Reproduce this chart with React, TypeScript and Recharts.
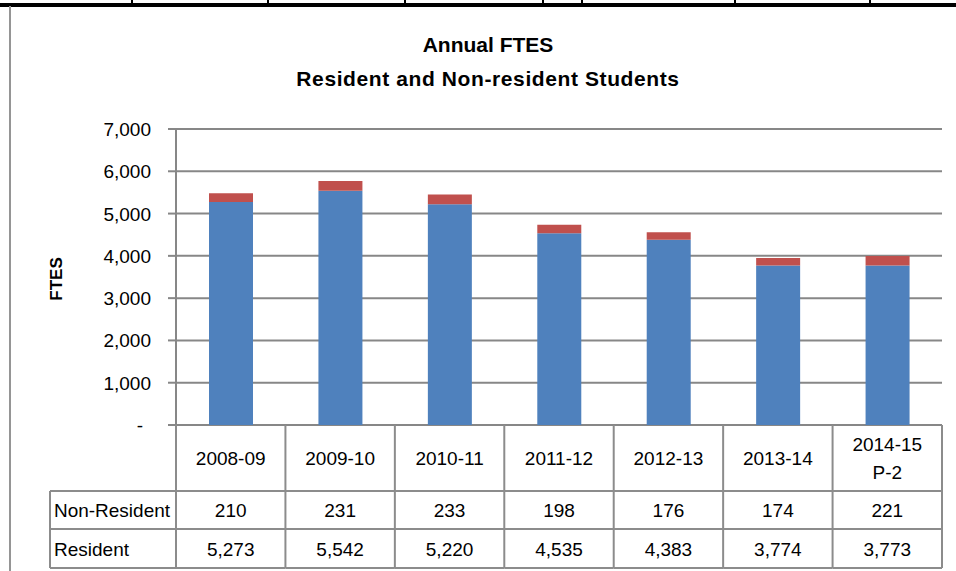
import React from "react";
import { BarChart, Bar, XAxis, YAxis, CartesianGrid } from "recharts";

const categories: string[] = ["2008-09", "2009-10", "2010-11", "2011-12", "2012-13", "2013-14", "2014-15\nP-2"];
const nonResident: number[] = [210, 231, 233, 198, 176, 174, 221];
const resident: number[] = [5273, 5542, 5220, 4535, 4383, 3774, 3773];
const yTicks: number[] = [0, 1000, 2000, 3000, 4000, 5000, 6000, 7000];
const rowLabels: string[] = ["Non-Resident", "Resident"];

const data = categories.map((name, i) => ({
  name,
  nonResident: nonResident[i],
  resident: resident[i],
}));

const W = 956;
const H = 571;
const LEFT = 176;
const RIGHT = 14;
const COL_W = (W - LEFT - RIGHT) / categories.length;
const HEAD_H = 66;
const ROW1_H = 38;
const ROW2_H = 39;
const LABEL_X = 50;
const BORDER = "#8c8c8c";
const FONT = "'Liberation Sans', Arial, sans-serif";

const fmt = (v: number) => (v === 0 ? "-" : v.toLocaleString("en-US"));

const YTick = (props: any) => {
  const { x, y, payload } = props;
  const v = payload.value as number;
  return (
    <text x={x - (v === 0 ? 8 : 0)} y={y} dy={7} textAnchor="end" fontSize={19} fill="#000" fontFamily={FONT}>
      {fmt(v)}
    </text>
  );
};

const TableTick = (props: any) => {
  const { x, y, payload, index } = props;
  const left = x - COL_W / 2;
  const right = x + COL_W / 2;
  const r1 = y + HEAD_H;
  const r2 = r1 + ROW1_H;
  const r3 = r2 + ROW2_H;
  const lines = String(payload.value).split("\n");
  const i = categories.indexOf(payload.value);
  return (
    <g fontFamily={FONT} fontSize={19} fill="#000">
      {index === 0 && (
        <g>
          <line x1={left} y1={y} x2={left} y2={r3} stroke={BORDER} strokeWidth={2} />
          <line x1={LABEL_X} y1={r1} x2={left} y2={r1} stroke={BORDER} strokeWidth={2} />
          <line x1={LABEL_X} y1={r2} x2={left} y2={r2} stroke={BORDER} strokeWidth={2} />
          <line x1={LABEL_X} y1={r3} x2={left} y2={r3} stroke={BORDER} strokeWidth={2} />
          <line x1={LABEL_X} y1={r1} x2={LABEL_X} y2={r3} stroke={BORDER} strokeWidth={2} />
          <text x={LABEL_X + 4} y={(r1 + r2) / 2} dy={7} textAnchor="start" textLength={116} lengthAdjust="spacingAndGlyphs">{rowLabels[0]}</text>
          <text x={LABEL_X + 4} y={(r2 + r3) / 2} dy={7} textAnchor="start">{rowLabels[1]}</text>
        </g>
      )}
      <line x1={right} y1={y} x2={right} y2={r3} stroke={BORDER} strokeWidth={2} />
      <line x1={left} y1={r1} x2={right} y2={r1} stroke={BORDER} strokeWidth={2} />
      <line x1={left} y1={r2} x2={right} y2={r2} stroke={BORDER} strokeWidth={2} />
      <line x1={left} y1={r3} x2={right} y2={r3} stroke={BORDER} strokeWidth={2} />
      {lines.map((t, k) => (
        <text
          key={k}
          x={x}
          y={y + HEAD_H / 2 + (k - (lines.length - 1) / 2) * 28}
          dy={7}
          textAnchor="middle"
        >
          {t}
        </text>
      ))}
      <text x={x} y={(r1 + r2) / 2} dy={7} textAnchor="middle">{fmt(nonResident[i])}</text>
      <text x={x} y={(r2 + r3) / 2} dy={7} textAnchor="middle">{fmt(resident[i])}</text>
    </g>
  );
};

const topTicks = [132, 268, 405, 543, 582, 735, 870];

export default function App() {
  return (
    <div style={{ position: "absolute", left: 0, top: 0, width: W, height: H, background: "#fff", fontFamily: FONT, overflow: "hidden" }}>
      <div style={{ position: "absolute", left: 0, top: 3, width: W, height: 4, background: "#000" }} />
      {topTicks.map((tx) => (
        <div key={tx} style={{ position: "absolute", left: tx - 1, top: 0, width: 2, height: 4, background: "#000" }} />
      ))}
      <div style={{ position: "absolute", left: 9, top: 6, width: 2, height: H - 6, background: "#959595" }} />
      <div style={{ position: "absolute", left: 0, top: 28, width: 976, textAlign: "center", fontSize: 21, fontWeight: "bold", lineHeight: "34px", color: "#000" }}>
        Annual FTES
        <br />
        <span style={{ display: "inline-block", letterSpacing: 0.6 }}>Resident and Non-resident Students</span>
      </div>
      <div
        style={{
          position: "absolute",
          left: 57,
          top: 279,
          transform: "translate(-50%, -50%) rotate(-90deg)",
          fontSize: 17,
          fontWeight: "bold",
          color: "#000",
        }}
      >
        FTES
      </div>
      <div style={{ position: "absolute", left: 0, top: 0 }}>
        <BarChart width={W} height={H} data={data} margin={{ top: 129, right: RIGHT, left: LEFT - 60, bottom: 4 }}>
          <CartesianGrid vertical={false} stroke="#878787" strokeWidth={2} />
          <YAxis
            width={60}
            domain={[0, 7000]}
            ticks={yTicks}
            interval={0}
            tickSize={8}
            tickMargin={17}
            axisLine={{ stroke: "#878787", strokeWidth: 2 }}
            tickLine={{ stroke: "#878787", strokeWidth: 2 }}
            tick={<YTick />}
          />
          <XAxis
            dataKey="name"
            height={142}
            interval={0}
            axisLine={false}
            tickLine={false}
            tickSize={0}
            tickMargin={0}
            tick={<TableTick />}
          />
          <Bar dataKey="resident" stackId="a" fill="#4F81BD" barSize={44} isAnimationActive={false} />
          <Bar dataKey="nonResident" stackId="a" fill="#C0504D" barSize={44} isAnimationActive={false} />
        </BarChart>
      </div>
    </div>
  );
}
